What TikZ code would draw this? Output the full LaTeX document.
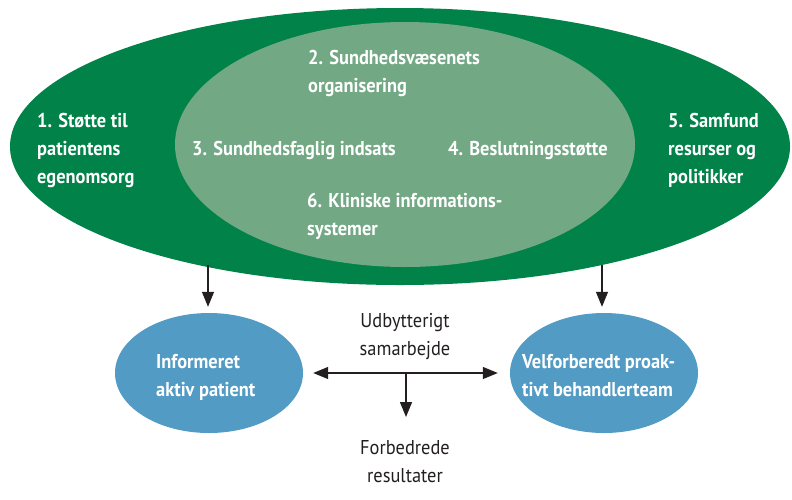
\documentclass[tikz,border=0pt]{standalone}
\usepackage{fontspec}
\setmainfont{PT Sans}[FakeStretch=0.92]
\usetikzlibrary{shapes.geometric,arrows.meta}
\definecolor{outergreen}{RGB}{0,130,72}
\definecolor{innergreen}{RGB}{114,168,132}
\definecolor{blueell}{RGB}{82,155,197}
\definecolor{ink}{RGB}{35,31,32}
\tikzset{
  ell/.style={ellipse, inner sep=0pt, draw=none},
  wlab/.style={text=white, font=\fontsize{20}{28}\selectfont\bfseries, align=left, inner sep=0pt, anchor=base west},
  blab/.style={text=ink, font=\fontsize{20}{28}\selectfont, align=center, inner sep=0pt, anchor=base},
  arr/.style={draw=ink, line width=1.3pt, -{Triangle[length=15pt,width=12pt]}},
  darr/.style={draw=ink, line width=1.3pt, {Triangle[length=15pt,width=12pt]}-{Triangle[length=15pt,width=12pt]}}
}
\begin{document}
\begin{tikzpicture}[x=1pt,y=-1pt]
\useasboundingbox (0,0) rectangle (792,499);
\node[ell, fill=outergreen, minimum width=780pt, minimum height=277pt] (outer) at (400,146.5) {};
\node[ell, fill=innergreen, minimum width=460pt, minimum height=245pt] (inner) at (405,144.5) {};
\node[ell, fill=blueell, minimum width=188pt, minimum height=120pt] (pat) at (209,373) {};
\node[ell, fill=blueell, minimum width=188pt, minimum height=120pt] (team) at (604,373) {};

% anchors give the baseline of the last line of each block
\node[wlab] (t1) at (37,183) {1. Støtte til\\patientens\\egenomsorg};
\node[wlab] (t2) at (308,92) {2. Sundhedsvæsenets\\organisering};
\node[wlab] (t3) at (192,155) {3. Sundhedsfaglig indsats};
\node[wlab] (t4) at (448,155) {4. Beslutningsstøtte};
\node[wlab] (t5) at (668,183) {5. Samfund\\resurser og\\politikker};
\node[wlab] (t6) at (307,235) {6. Kliniske informations-\\systemer};
\node[wlab] (tp) at (156,396) {Informeret\\aktiv patient};
\node[wlab] (tt) at (522,396) {Velforberedt proak-\\tivt behandlerteam};

\node[blab] (samar) at (405,355) {Udbytterigt\\samarbejde};
\node[blab] (res) at (405,482) {Forbedrede\\resultater};

\coordinate (s1) at (208,265);
\coordinate (s2) at (602,265);
\coordinate (mid) at (406,373);
\coordinate (midend) at (406,417);
\draw[arr, shorten >=6pt] (s1) -- (s1 |- pat.north);
\draw[arr, shorten >=6pt] (s2) -- (s2 |- team.north);
\draw[darr, shorten <=10pt, shorten >=12pt] (pat.east) -- (team.west);
\draw[arr] (mid) -- (midend);
\end{tikzpicture}
\end{document}
